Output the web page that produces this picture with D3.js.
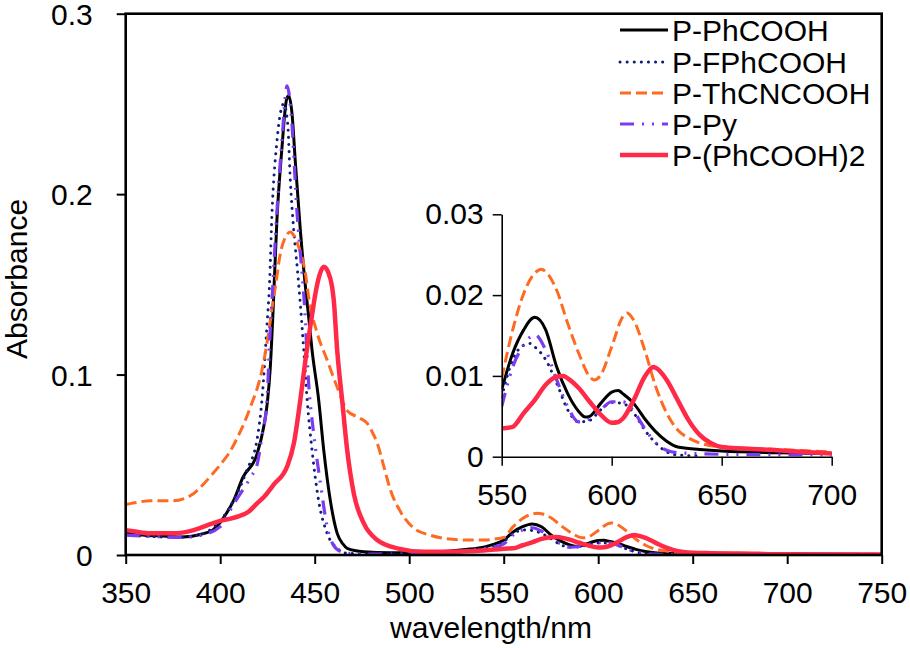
<!DOCTYPE html>
<html>
<head>
<meta charset="utf-8">
<script src="https://d3js.org/d3.v7.min.js"></script>
<style>
body { margin: 0; background: #fff; }
text { font-family: "Liberation Sans", Arial, sans-serif; fill: #000; }
</style>
</head>
<body>
<div id="chart"></div>
<script>
// Absorption spectra, values: [wavelength nm, absorbance]

const seriesNames = ["P-PhCOOH", "P-FPhCOOH", "P-ThCNCOOH", "P-Py", "P-(PhCOOH)2"];

const pPhCOOH = [[350,0.012],[360,0.011],[370,0.0105],[380,0.010],[390,0.0115],[396,0.0138],[400,0.018],[402,0.021],
  [407,0.030],[412,0.043],[419.5,0.056],[423,0.071],[425,0.085],[426.5,0.104],[428,0.136],[430,0.1855],[432.7,0.226],
  [435,0.252],[436.2,0.2547],[438,0.2446],[439.8,0.217],[442.4,0.180],[445.1,0.1486],[446.8,0.132],[448.6,0.1135],
  [452.1,0.086],[454.8,0.058],[458.3,0.030],[461.9,0.012],[465,0.006],[467.2,0.0037],[476,0.0018],[490,0.0012],
  [510,0.0015],[530,0.003],[540,0.0045],[545,0.006],[550,0.0083],[555,0.0128],[560,0.0157],[565,0.01725],[570,0.0157],
  [575,0.0111],[580,0.0078],[585,0.0056],[588,0.0049],[590,0.005],[595,0.0066],[600,0.008],[603,0.0082],[605,0.0078],
  [610,0.0066],[615,0.0047],[620,0.0031],[625,0.0019],[630,0.0012],[640,0.0009],[650,0.0007],[675,0.0005],[700,0.0004],
  [750,0.0003]];

const pFPhCOOH = [[350,0.011],[360,0.0105],[370,0.010],[380,0.010],[390,0.0115],[400,0.019],[407,0.030],[414.1,0.047],
  [419.5,0.064],[422.1,0.086],[424.8,0.128],[426.1,0.150],[427.4,0.189],[430.1,0.230],[431.8,0.2446],[433.6,0.250],
  [435.7,0.239],[437.1,0.2076],[438.9,0.180],[440.7,0.160],[442.4,0.139],[444.2,0.1135],[446,0.086],[448.6,0.058],
  [452.1,0.030],[456.6,0.012],[461.9,0.0037],[467,0.001],[480,0.0005],[500,0.0005],[520,0.001],[535,0.003],[545,0.005],
  [550,0.0074],[555,0.012],[560,0.0138],[563,0.014],[565,0.0136],[570,0.012],[575,0.0091],[580,0.0058],[585,0.0043],
  [590,0.0045],[595,0.0058],[600,0.0067],[605,0.0066],[610,0.0054],[615,0.0033],[620,0.0017],[625,0.0006],[630,0.0002],
  [640,0.0001],[750,0.0001]];

const pThCNCOOH = [[350,0.028],[353,0.0286],[363,0.030],[375,0.030],[385.8,0.034],[390,0.038],[396,0.045],[400,0.050],
  [405,0.057],[410,0.067],[416,0.082],[422,0.102],[425.6,0.123],[428,0.141],[429.2,0.1486],[431.8,0.167],[434,0.175],
  [437.1,0.179],[439,0.177],[441.5,0.1707],[445.1,0.156],[446.8,0.143],[451.3,0.123],[456.6,0.108],[461.9,0.093],
  [467.2,0.080],[474.2,0.0757],[477.8,0.073],[480,0.069],[483.1,0.062],[486.6,0.049],[490.1,0.036],[495.4,0.024],
  [502.5,0.0148],[511,0.011],[520,0.009],[530,0.0083],[540,0.0083],[545,0.0088],[550,0.0097],[555,0.0157],[560,0.0202],
  [565,0.0227],[568,0.0232],[570,0.0229],[575,0.0206],[580,0.0165],[585,0.0128],[590,0.0099],[592,0.0095],[595,0.0101],
  [600,0.0136],[605,0.0173],[607,0.0178],[610,0.0169],[615,0.0132],[620,0.0087],[625,0.0054],[630,0.0033],[635,0.0023],
  [640,0.0017],[650,0.0012],[675,0.0009],[700,0.0006],[750,0.0004]];

const pPy = [[350,0.011],[360,0.0105],[370,0.010],[380,0.0098],[390,0.011],[400,0.0157],[407,0.028],[416,0.043],
  [419.5,0.050],[422,0.065],[424.8,0.086],[426,0.115],[427.4,0.141],[430,0.19],[432.7,0.23],[435.4,0.260],[437.5,0.245],
  [440.7,0.189],[443,0.16],[444.5,0.140],[446.8,0.095],[449.5,0.067],[453,0.040],[456.6,0.0157],[461.9,0.003],[467,0.001],
  [480,0.0005],[500,0.0005],[520,0.001],[535,0.003],[545,0.0045],[550,0.0062],[555,0.0111],[560,0.0138],[565,0.0151],
  [570,0.0132],[575,0.0095],[580,0.0062],[585,0.0043],[590,0.0047],[595,0.0058],[600,0.0068],[605,0.0068],[610,0.0056],
  [615,0.0035],[620,0.0017],[625,0.0008],[630,0.0005],[650,0.0003],[700,0.0002],[750,0.0002]];

const pPhCOOH2 = [[350,0.0138],[355,0.013],[363,0.012],[375,0.012],[386,0.0138],[396,0.0175],[401.7,0.0194],[405,0.020],
  [410,0.0215],[415,0.024],[419.5,0.0286],[423,0.032],[428.3,0.039],[435.4,0.049],[439,0.062],[442.4,0.086],
  [445.1,0.108],[448.6,0.133],[450.4,0.145],[452.5,0.155],[454.8,0.1597],[457,0.157],[459.2,0.1486],[460.1,0.141],
  [461.9,0.1135],[464.5,0.086],[467.2,0.058],[470.7,0.034],[476,0.0175],[483.1,0.0083],[493.7,0.0037],[507.8,0.0018],
  [520,0.0018],[535,0.0022],[545,0.003],[550,0.0035],[555,0.0037],[560,0.0054],[565,0.007],[570,0.0089],[575,0.0099],
  [578,0.010],[580,0.0097],[585,0.0085],[590,0.0068],[595,0.0052],[600,0.0042],[603,0.0043],[605,0.0047],[610,0.007],
  [615,0.0099],[619,0.0111],[620,0.011],[625,0.0095],[630,0.007],[635,0.0045],[640,0.0027],[645,0.0017],[650,0.0012],
  [660,0.001],[675,0.0008],[700,0.0004],[750,0.0003]];

const xTicks = [350, 400, 450, 500, 550, 600, 650, 700, 750];
const yTicks = [0, 0.1, 0.2, 0.3];
const yTickLabels = ["0", "0.1", "0.2", "0.3"];
const insetXTicks = [550, 600, 650, 700];
const insetYTicks = [0, 0.01, 0.02, 0.03];
const insetYTickLabels = ["0", "0.01", "0.02", "0.03"];

const allSeries = [pPhCOOH, pFPhCOOH, pThCNCOOH, pPy, pPhCOOH2];

const styles = [
  {color: "#000000", width: 3, dash: null, cap: "butt"},
  {color: "#0d1f78", width: 3, dash: "0.1,7", cap: "round"},
  {color: "#ff6a22", width: 3, dash: "11,5", cap: "butt"},
  {color: "#7a3cf0", width: 3.2, dash: "14,8,2,8,2,8", cap: "butt"},
  {color: "#ff2a48", width: 4.5, dash: null, cap: "butt"}
];

const W = 910, H = 648;
const plot = {left: 125.7, right: 881.7, top: 13.7, bottom: 555};
const inset = {left: 501.7, right: 831.7, top: 214.3, bottom: 456.7};

const svg = d3.select("#chart").append("svg")
    .attr("width", W)
    .attr("height", H);

const x = d3.scaleLinear().domain([350, 750]).range([plot.left, plot.right]);
const y = d3.scaleLinear().domain([0, 0.3]).range([plot.bottom, plot.top]);

const xi = d3.scaleLinear().domain([550, 700]).range([inset.left, inset.right]);
const yi = d3.scaleLinear().domain([0, 0.03]).range([inset.bottom, inset.top]);

const defs = svg.append("defs");
defs.append("clipPath").attr("id", "clipMain").append("rect")
    .attr("x", plot.left).attr("y", plot.top)
    .attr("width", plot.right - plot.left).attr("height", plot.bottom - plot.top);
defs.append("clipPath").attr("id", "clipInset").append("rect")
    .attr("x", inset.left).attr("y", inset.top - 5)
    .attr("width", inset.right - inset.left + 2).attr("height", inset.bottom - inset.top + 5);

// main curves
const line = d3.line().x(d => x(d[0])).y(d => y(d[1])).curve(d3.curveMonotoneX);

svg.append("g").attr("clip-path", "url(#clipMain)")
    .selectAll("path")
    .data(allSeries)
    .enter().append("path")
    .attr("d", line)
    .attr("fill", "none")
    .attr("stroke", (d, i) => styles[i].color)
    .attr("stroke-width", (d, i) => styles[i].width)
    .attr("stroke-dasharray", (d, i) => styles[i].dash)
    .attr("stroke-linecap", (d, i) => styles[i].cap)
    .attr("stroke-linejoin", "round");

// main axes
const xAxis = svg.append("g")
    .attr("transform", `translate(0,${plot.bottom})`)
    .call(d3.axisBottom(x).tickValues(xTicks).tickSize(9).tickFormat(d3.format("d")));
xAxis.select(".domain").remove();
xAxis.selectAll("line").attr("stroke-width", 2);
xAxis.selectAll("text").attr("y", 48).attr("dy", 0)
    .style("font-size", "30px");

const yAxis = svg.append("g")
    .attr("transform", `translate(${plot.left},0)`)
    .call(d3.axisLeft(y).tickValues(yTicks).tickSize(9).tickPadding(24)
        .tickFormat((d, i) => yTickLabels[i]));
yAxis.select(".domain").remove();
yAxis.selectAll("line").attr("stroke-width", 2);
yAxis.selectAll("text").attr("dy", "0.35em").style("font-size", "30px");

svg.append("rect")
    .attr("x", plot.left).attr("y", plot.top)
    .attr("width", plot.right - plot.left).attr("height", plot.bottom - plot.top)
    .attr("fill", "none")
    .attr("stroke", "#000")
    .attr("stroke-width", 2.6);

svg.append("text")
    .attr("x", 491)
    .attr("y", 638)
    .attr("text-anchor", "middle")
    .style("font-size", "30px")
    .text("wavelength/nm");

svg.append("text")
    .attr("transform", "rotate(-90)")
    .attr("x", -279)
    .attr("y", 27)
    .attr("text-anchor", "middle")
    .style("font-size", "30px")
    .text("Absorbance");

// inset
const lineInset = d3.line().x(d => xi(d[0])).y(d => yi(d[1])).curve(d3.curveMonotoneX);

svg.append("g").attr("clip-path", "url(#clipInset)")
    .selectAll("path")
    .data(allSeries.map(s => s.filter(d => d[0] >= 550 && d[0] <= 700)))
    .enter().append("path")
    .attr("d", lineInset)
    .attr("fill", "none")
    .attr("stroke", (d, i) => styles[i].color)
    .attr("stroke-width", (d, i) => styles[i].width)
    .attr("stroke-dasharray", (d, i) => styles[i].dash)
    .attr("stroke-linecap", (d, i) => styles[i].cap)
    .attr("stroke-linejoin", "round");

const xiAxis = svg.append("g")
    .attr("transform", `translate(0,${inset.bottom})`)
    .call(d3.axisBottom(xi).tickValues(insetXTicks).tickSizeInner(9).tickSizeOuter(0)
        .tickFormat(d3.format("d")));
xiAxis.select(".domain").attr("stroke-width", 1.6);
xiAxis.selectAll("line").attr("stroke-width", 1.5);
xiAxis.selectAll("text").attr("y", 48).attr("dy", 0)
    .style("font-size", "30px");

const yiAxis = svg.append("g")
    .attr("transform", `translate(${inset.left},0)`)
    .call(d3.axisLeft(yi).tickValues(insetYTicks).tickSizeInner(9).tickSizeOuter(0).tickPadding(9)
        .tickFormat((d, i) => insetYTickLabels[i]));
yiAxis.select(".domain").attr("stroke-width", 1.6);
yiAxis.selectAll("line").attr("stroke-width", 1.5);
yiAxis.selectAll("text").style("font-size", "30px");

// legend
const legend = svg.append("g");
const rowY = [30, 62, 93, 124, 155];

legend.selectAll("line")
    .data(seriesNames)
    .enter().append("line")
    .attr("x1", 620).attr("x2", 668)
    .attr("y1", (d, i) => rowY[i]).attr("y2", (d, i) => rowY[i])
    .attr("stroke", (d, i) => styles[i].color)
    .attr("stroke-width", (d, i) => styles[i].width)
    .attr("stroke-dasharray", (d, i) => styles[i].dash)
    .attr("stroke-linecap", (d, i) => styles[i].cap);

legend.selectAll("text")
    .data(seriesNames)
    .enter().append("text")
    .attr("x", 672)
    .attr("y", (d, i) => rowY[i] + 11)
    .style("font-size", "30px")
    .text(d => d);
</script>
</body>
</html>
